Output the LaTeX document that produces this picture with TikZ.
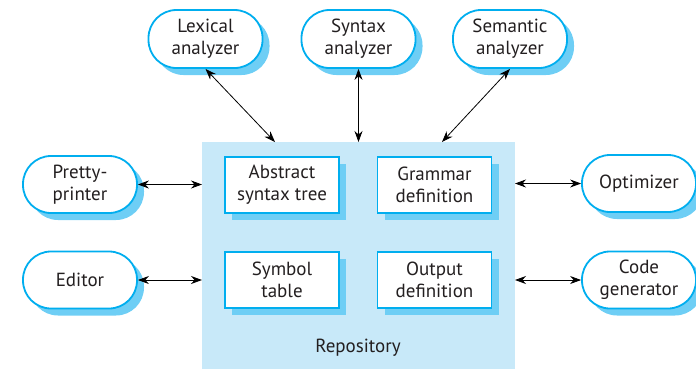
\documentclass[tikz,border=0pt]{standalone}
\usepackage{fontspec}
\setmainfont{PT Sans}
\usetikzlibrary{arrows.meta,shadows}
\definecolor{bordercol}{RGB}{0,174,239}
\definecolor{shadowcol}{RGB}{110,206,245}
\definecolor{repocol}{RGB}{200,233,249}
\definecolor{textcol}{RGB}{35,31,32}
\tikzset{
  tool/.style={draw=bordercol, line width=1.8pt, fill=white, rounded corners=28pt,
    minimum width=114pt, minimum height=57pt, align=center, inner sep=0pt,
    text=textcol, font=\fontsize{19}{22}\selectfont,
    drop shadow={shadow xshift=7pt, shadow yshift=-7pt, fill=shadowcol, opacity=1}},
  store/.style={draw=bordercol, line width=1.8pt, fill=white,
    minimum width=114pt, minimum height=56pt, align=center, inner sep=0pt,
    text=textcol, font=\fontsize{19}{22}\selectfont,
    drop shadow={shadow xshift=7pt, shadow yshift=-7pt, fill=shadowcol, opacity=1}},
  link/.style={line width=0.8pt, {Stealth[length=11pt,width=8pt]}-{Stealth[length=11pt,width=8pt]}},
}
\begin{document}
\begin{tikzpicture}[x=1pt,y=-1pt]
\useasboundingbox (0,0) rectangle (696,368);
% repository
\node[fill=repocol, minimum width=313pt, minimum height=230pt, inner sep=0pt, anchor=north west] (repo) at (202,142) {};
\node[text=textcol, font=\fontsize{19}{22}\selectfont] (replabel) at (358,348) {Repository};
% stores
\node[store] (ast) at (282,185) {Abstract\\syntax tree};
\node[store] (gram) at (434.5,185) {Grammar\\definition};
\node[store] (sym) at (282,280) {Symbol\\table};
\node[store] (out) at (434.5,280) {Output\\definition};
% tools
\node[tool, minimum height=58pt] (lex) at (205.5,39) {Lexical\\analyzer};
\node[tool, minimum height=58pt] (syn) at (358.5,39) {Syntax\\analyzer};
\node[tool, minimum height=58pt] (sem) at (510,39) {Semantic\\analyzer};
\node[tool] (pp) at (80,184.5) {Pretty-\\printer};
\node[tool] (ed) at (80,280) {Editor};
\node[tool] (opt) at (639,183.5) {Optimizer};
\node[tool] (cg) at (639,280) {Code\\generator};
% repository attachment points
\coordinate (rlex) at (275,142);
\coordinate (rsyn) at (358.5,142);
\coordinate (rsem) at (442,142);
\coordinate (rpp) at (202,184.5);
\coordinate (red) at (202,280);
\coordinate (ropt) at (515,183.5);
\coordinate (rcg) at (515,280);
% links
\draw[link] (lex.south) -- (rlex);
\draw[link] (syn.south) -- (rsyn);
\draw[link] (sem.south) -- (rsem);
\draw[link] (pp.east) -- (rpp);
\draw[link] (ed.east) -- (red);
\draw[link] (opt.west) -- (ropt);
\draw[link] (cg.west) -- (rcg);
\end{tikzpicture}
\end{document}
